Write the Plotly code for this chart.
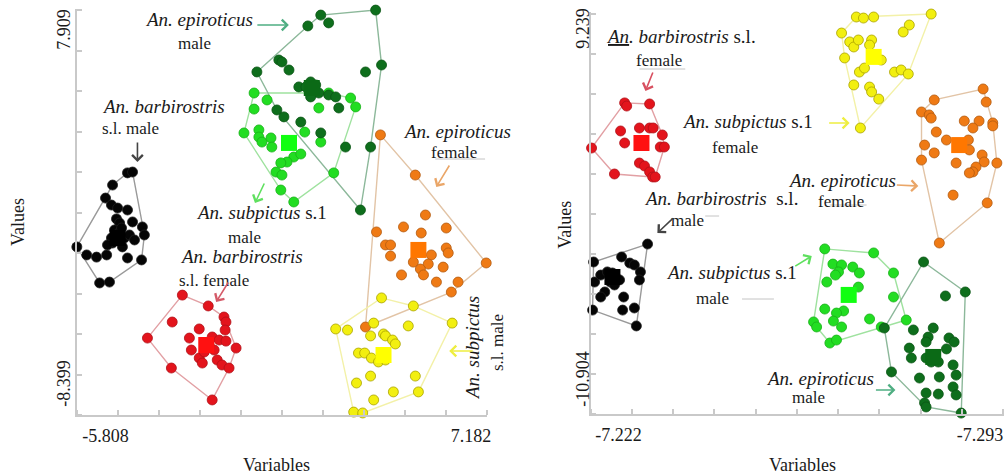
import plotly.graph_objects as go

# ---------------- Left panel data ----------------
L_tick_x = [-5.808, 7.182]
L_tick_y = [7.909, -8.399]

L_black_x = [-5.03,-4.85,-5.56,-5.81,-5.60,-5.38,-5.03,-5.42,-5.31,-4.85,-4.50,-6.83,-6.48,-6.13,-5.77,-5.56,-5.42,-5.21,-5.03,-4.53,-4.43,-6.02,-5.67,-5.49,-5.31,-5.60,-5.38,-5.14,-5.74,-5.24,-4.96,-4.78]
L_black_y = [1.28,1.32,0.72,0.12,-0.20,-0.34,-0.43,-0.84,-1.03,-0.98,-1.21,-2.13,-2.50,-2.60,-2.50,-1.95,-1.58,-2.13,-2.64,-2.73,-1.58,-3.79,-3.75,-1.35,-1.44,-1.72,-1.81,-1.72,-2.04,-1.26,-1.58,-1.81]
L_red_x = [-3.08,-2.16,-1.60,-1.53,-3.44,-1.56,-2.48,-4.32,-2.83,-2.02,-1.77,-1.53,-2.76,-1.17,-2.48,-2.37,-1.84,-1.67,-1.42,-3.47,-2.02,-2.13,-1.95,-2.30]
L_red_y = [-4.35,-4.85,-5.36,-5.59,-5.59,-5.96,-5.91,-6.33,-6.33,-6.28,-6.42,-6.47,-6.88,-6.79,-7.25,-7.48,-7.34,-7.57,-7.71,-7.71,-9.18,-6.65,-6.88,-6.97]
L_lgreen_x = [-0.53,-0.07,-0.53,-0.89,-0.36,-0.36,-0.25,0.07,0.10,0.88,1.13,0.64,0.42,0.25,0.46,0.42,0.88,2.30,1.77,2.12,2.90,3.08,1.27,1.84]
L_lgreen_y = [4.96,4.64,4.22,3.12,3.26,2.93,2.70,2.89,2.47,2.01,2.15,1.78,1.74,1.32,1.18,0.49,-0.06,1.28,4.27,4.96,4.73,4.32,3.16,2.70]
L_dgreen_x = [3.79,1.84,2.12,1.38,0.35,0.46,0.71,-0.43,3.43,4.00,1.06,1.31,1.48,1.66,1.52,1.77,1.48,2.12,2.37,0.28,0.53,1.13,1.84,2.48,2.72,3.61,3.25]
L_dgreen_y = [8.78,8.55,8.19,8.05,6.48,6.39,6.02,5.93,5.93,6.25,5.24,5.24,5.47,5.33,5.10,4.96,4.78,4.87,4.78,4.18,3.86,3.62,3.12,4.27,2.47,2.47,-0.43]
L_orange_x = [3.96,5.20,5.56,4.78,5.41,6.30,3.82,4.14,4.32,4.32,6.30,6.37,5.77,5.66,5.13,4.71,5.38,5.49,5.95,6.19,6.72,6.48,7.72,3.43]
L_orange_y = [3.03,1.18,-0.66,-1.21,-1.49,-1.26,-1.44,-2.04,-2.04,-2.55,-2.18,-2.41,-2.50,-2.92,-2.83,-3.42,-3.15,-3.42,-3.75,-3.06,-3.75,-4.21,-2.87,-5.82]
L_yellow_x = [4.00,5.13,6.51,2.37,2.79,3.72,3.61,4.07,4.14,4.39,4.49,4.95,3.18,3.40,3.64,3.89,4.14,3.61,3.11,5.20,4.42,3.72,5.31,3.01,3.33]
L_yellow_y = [-4.48,-4.85,-5.64,-5.91,-5.96,-5.64,-6.23,-6.14,-6.23,-6.42,-6.60,-5.77,-7.02,-7.02,-7.25,-7.43,-7.34,-8.08,-8.40,-8.08,-8.81,-9.18,-8.81,-9.74,-9.78]
# centroids: black, red, light green, dark green, orange, yellow
L_cent_x = [-5.38, -2.23, 0.71, 1.52, 5.31, 4.07]
L_cent_y = [-1.72, -6.65, 2.66, 5.19, -2.27, -7.11]

# ---------------- Right panel data ----------------
R_tick_x = [-7.222, -7.293]
R_tick_y = [9.239, -10.904]

R_red_x = [-7.2232,-7.2236,-7.2281,-7.2224,-7.2232,-7.2261,-7.2281,-7.2288,-7.2306,-7.2302,-7.2310,-7.2167,-7.2261,-7.2271,-7.2212,-7.2281,-7.2287,-7.2292]
R_red_y = [4.94,4.76,4.88,3.33,2.64,3.50,3.50,3.50,3.10,2.41,2.41,2.35,1.49,1.32,0.86,0.98,0.69,0.69]
R_black_x = [-7.2277,-7.2171,-7.2226,-7.2242,-7.2251,-7.2263,-7.2261,-7.2173,-7.2185,-7.2198,-7.2208,-7.2214,-7.2222,-7.2204,-7.2212,-7.2193,-7.2185,-7.2230,-7.2169,-7.2228,-7.2251,-7.2255]
R_black_y = [-3.16,-4.19,-3.90,-4.25,-4.36,-4.76,-5.22,-5.34,-4.94,-4.76,-4.82,-5.05,-5.22,-5.34,-5.51,-5.91,-6.20,-6.20,-6.95,-6.95,-6.83,-7.86]
R_yellow_x = [-7.2687,-7.2701,-7.2721,-7.2834,-7.2658,-7.2791,-7.2779,-7.2674,-7.2682,-7.2691,-7.2717,-7.2713,-7.2664,-7.2736,-7.2693,-7.2703,-7.2762,-7.2775,-7.2789,-7.2682,-7.2713,-7.2717,-7.2731,-7.2695]
R_yellow_y = [9.87,9.81,9.87,10.04,8.95,9.41,9.01,8.44,8.15,8.55,8.55,8.26,7.52,7.40,6.71,6.94,6.71,6.83,6.60,5.97,5.85,5.57,5.16,3.50]
R_orange_x = [-7.2936,-7.2840,-7.2942,-7.2815,-7.2830,-7.2834,-7.2899,-7.2928,-7.2955,-7.2955,-7.2916,-7.2844,-7.2864,-7.2907,-7.2909,-7.2821,-7.2840,-7.2815,-7.2883,-7.2934,-7.2938,-7.2963,-7.2922,-7.2916,-7.2909,-7.2877,-7.2944,-7.2850]
R_orange_y = [5.74,5.11,4.99,4.42,4.25,4.07,3.90,3.90,3.79,3.62,3.50,3.27,2.81,2.81,2.24,2.52,2.07,1.66,1.49,1.95,1.55,1.49,1.26,0.98,0.92,-0.35,-0.80,-3.10]
R_lgreen_x = [-7.2625,-7.2721,-7.2641,-7.2658,-7.2680,-7.2652,-7.2646,-7.2693,-7.2629,-7.2691,-7.2760,-7.2760,-7.2625,-7.2662,-7.2648,-7.2603,-7.2609,-7.2642,-7.2658,-7.2713,-7.2736,-7.2785,-7.2635,-7.2648]
R_lgreen_y = [-3.44,-3.67,-4.31,-4.36,-4.48,-4.76,-4.94,-4.82,-5.34,-5.63,-4.82,-6.20,-6.89,-7.00,-7.12,-7.63,-7.92,-7.58,-7.92,-7.46,-7.92,-7.52,-8.84,-8.67]
R_dgreen_x = [-7.2819,-7.2901,-7.2862,-7.2742,-7.2799,-7.2838,-7.2828,-7.2824,-7.2791,-7.2795,-7.2869,-7.2879,-7.2864,-7.2824,-7.2834,-7.2848,-7.2877,-7.2883,-7.2850,-7.2756,-7.2811,-7.2824,-7.2848,-7.2877,-7.2883,-7.2821,-7.2824,-7.2893]
R_dgreen_y = [-4.19,-5.91,-6.14,-7.98,-8.09,-7.98,-8.50,-8.78,-9.13,-9.70,-8.55,-8.78,-9.18,-9.70,-9.93,-9.93,-10.10,-10.68,-10.79,-10.50,-10.85,-11.71,-11.77,-11.36,-11.82,-12.28,-12.51,-12.86]
# centroids: black, red, light green, dark green, orange, yellow
R_cent_x = [-7.2208, -7.2265, -7.2672, -7.2838, -7.2889, -7.2721]
R_cent_y = [-5.05, 2.64, -6.08, -9.64, 2.52, 7.58]

# ---------------- styles ----------------
FONT = "Liberation Serif, Times New Roman, serif"
TXT = "#1a1a1a"
STY = {
    "black":  dict(m="#050505", e="#202020", h="#9a9a9a", c="#000000"),
    "red":    dict(m="#e3141c", e="#b01018", h="#e2a0a4", c="#ff1111"),
    "lgreen": dict(m="#22dd22", e="#18b018", h="#9fe29f", c="#11ff11"),
    "dgreen": dict(m="#0e6e1c", e="#0a5514", h="#8cb89a", c="#0b6a16"),
    "orange": dict(m="#ef7a14", e="#b35a10", h="#e2c4a6", c="#ff7700"),
    "yellow": dict(m="#f2ef10", e="#a9a200", h="#f3f1a8", c="#ffff00"),
}
order = ["black", "red", "lgreen", "dgreen", "orange", "yellow"]


def hull(xs, ys):
    pts = sorted(set(zip(xs, ys)))
    if len(pts) < 3:
        return [p[0] for p in pts], [p[1] for p in pts]

    def cross(o, a, b):
        return (a[0] - o[0]) * (b[1] - o[1]) - (a[1] - o[1]) * (b[0] - o[0])
    lower, upper = [], []
    for p in pts:
        while len(lower) >= 2 and cross(lower[-2], lower[-1], p) <= 0:
            lower.pop()
        lower.append(p)
    for p in reversed(pts):
        while len(upper) >= 2 and cross(upper[-2], upper[-1], p) <= 0:
            upper.pop()
        upper.append(p)
    h = lower[:-1] + upper[:-1]
    h.append(h[0])
    return [p[0] for p in h], [p[1] for p in h]


panels = [
    ("x", "y", {"black": (L_black_x, L_black_y), "red": (L_red_x, L_red_y),
                "lgreen": (L_lgreen_x, L_lgreen_y), "dgreen": (L_dgreen_x, L_dgreen_y),
                "orange": (L_orange_x, L_orange_y), "yellow": (L_yellow_x, L_yellow_y)},
     L_cent_x, L_cent_y),
    ("x2", "y2", {"black": (R_black_x, R_black_y), "red": (R_red_x, R_red_y),
                  "lgreen": (R_lgreen_x, R_lgreen_y), "dgreen": (R_dgreen_x, R_dgreen_y),
                  "orange": (R_orange_x, R_orange_y), "yellow": (R_yellow_x, R_yellow_y)},
     R_cent_x, R_cent_y),
]

fig = go.Figure()
for xa, ya, groups, cx, cy in panels:
    for k in order:
        hx, hy = hull(*groups[k])
        fig.add_trace(go.Scatter(x=hx, y=hy, mode="lines", xaxis=xa, yaxis=ya,
                                 line=dict(color=STY[k]["h"], width=1.4),
                                 hoverinfo="skip", showlegend=False))
    for i, k in enumerate(order):
        gx, gy = groups[k]
        fig.add_trace(go.Scatter(x=gx, y=gy, mode="markers", xaxis=xa, yaxis=ya,
                                 marker=dict(size=10, color=STY[k]["m"],
                                             line=dict(color=STY[k]["e"], width=0.8)),
                                 cliponaxis=False, showlegend=False))
        fig.add_trace(go.Scatter(x=[cx[i]], y=[cy[i]], mode="markers", xaxis=xa, yaxis=ya,
                                 marker=dict(size=16, symbol="square", color=STY[k]["c"]),
                                 cliponaxis=False, showlegend=False))


def P(px, py):
    return px / 1008.0, 1 - py / 476.0


annotations = []


def text(s, px, py, anchor="center", size=17, angle=0):
    x, y = P(px, py)
    annotations.append(dict(text=s, x=x, y=y, xref="paper", yref="paper",
                            xanchor=anchor, yanchor="middle", showarrow=False,
                            textangle=angle, font=dict(family=FONT, size=size, color=TXT)))


def arrow(tx, ty, hx, hy, color):
    x, y = P(hx, hy)
    annotations.append(dict(text="", x=x, y=y, xref="paper", yref="paper",
                            ax=tx - hx, ay=ty - hy, axref="pixel", ayref="pixel",
                            showarrow=True, arrowhead=4, arrowsize=1.3, arrowwidth=1.6,
                            arrowcolor=color, standoff=0, startstandoff=0))


# y-axis tick labels (rotated), placed on the axis scale
for v in L_tick_y:
    annotations.append(dict(text=f"{v:.3f}", x=64 / 1008.0, y=v, xref="paper", yref="y",
                            xanchor="center", yanchor="middle", showarrow=False, textangle=-90,
                            font=dict(family=FONT, size=18, color=TXT)))
for v in R_tick_y:
    annotations.append(dict(text=f"{v:.3f}", x=585 / 1008.0, y=v, xref="paper", yref="y2",
                            xanchor="center", yanchor="middle", showarrow=False, textangle=-90,
                            font=dict(family=FONT, size=18, color=TXT)))

IS = 19  # italic species label size
# left panel labels
text("<i>An. epiroticus</i>", 200, 20, size=IS)
text("male", 195, 43)
arrow(257, 25, 290, 25, "#4fae82")
text("<i>An. barbirostris</i>", 164, 106, size=IS)
text("s.l. male", 100, 129, anchor="left")
arrow(138, 141, 138, 162, "#444444")
text("<i>An. epiroticus</i>", 459, 131, size=IS)
text("female", 456, 153)
arrow(452, 164, 438, 187, "#eaa668")
text("<i>An. subpictus</i> s.1", 263, 212, size=IS)
text("male", 245, 237)
arrow(266, 182, 256, 203, "#5fe05f")
text("<i>An. barbirostris</i>", 242, 256, size=IS)
text("s.l. female", 178, 280, anchor="left")
arrow(230, 281, 217, 302, "#d45a68")
text("<i>An. subpictus</i>", 474, 348, size=IS, angle=-90)
text("s.l. male", 499, 343, angle=-90)
arrow(476, 351, 451, 351, "#eeee40")

# right panel labels
text("<i><span style='text-decoration:underline'>An</span>. barbirostris</i> s.l.", 684, 37, size=IS)
text("female", 662, 60)
arrow(656, 71, 648, 91, "#d85060")
text("<i>An. subpictus</i> s.1", 750, 122, size=IS)
text("female", 738, 147)
arrow(831, 123, 853, 123, "#eeee40")
text("<i>An. epiroticus</i>", 845, 180, size=IS)
text("female", 844, 201)
arrow(899, 185, 922, 186, "#eaa668")
text("<i>An. barbirostris</i>  s.l.", 724, 198, size=IS)
text("male", 690, 220)
arrow(677, 217, 660, 233, "#444444")
text("<i>An. subpictus</i> s.1", 734, 272, size=IS)
text("male", 715, 298)
arrow(797, 267, 815, 256, "#5fe05f")
text("<i>An. epiroticus</i>", 823, 378, size=IS)
text("male", 812, 397)
arrow(878, 390, 899, 390, "#4fae82")

# axis titles
text("Variables", 278, 465, size=18)
text("Variables", 806, 465, size=18)
text("Values", 18, 222, size=18, angle=-90)
text("Values", 567, 225, size=18, angle=-90)

shapes = []
for (x0, y0, x1, y1) in [(437, 159, 487, 159), (708, 216, 722, 216), (833, 205, 870, 205),
                         (745, 299, 777, 299), (642, 69, 688, 69)]:
    a, b = P(x0, y0)
    c, d = P(x1, y1)
    shapes.append(dict(type="line", xref="paper", yref="paper", x0=a, y0=b, x1=c, y1=d,
                       line=dict(color="#c4c4c4", width=1)))

AX = "#c9c9c9"


def axis(domain, rng, tickvals, tick0, dtick, anchor, labels=True, standoff=3):
    return dict(domain=domain, range=rng, anchor=anchor, showgrid=False, zeroline=False,
                showline=True, linecolor=AX, linewidth=2,
                tickmode="array", tickvals=tickvals, ticktext=[f"{v:.3f}" for v in tickvals],
                ticks="", showticklabels=labels, ticklabelstandoff=standoff,
                tickfont=dict(family=FONT, size=18, color=TXT),
                minor=dict(ticks="inside", ticklen=5, tickwidth=1.5, tickcolor=AX,
                           tickmode="linear", tick0=tick0, dtick=dtick, showgrid=False))


fig.update_layout(
    width=1008, height=476, margin=dict(l=0, r=0, t=0, b=0),
    paper_bgcolor="white", plot_bgcolor="white", showlegend=False,
    xaxis=axis([0.07639, 0.48512], [-6.835, 7.75], L_tick_x, -6.835, 1.4585, "y"),
    yaxis=axis([0.12815, 0.98109], [-9.874, 8.83], L_tick_y, -9.874, 1.8658, "x", labels=False),
    xaxis2=axis([0.58829, 1.0], [-7.21652, -7.2977], R_tick_x, -7.21652, 0.008098, "y2"),
    yaxis2=axis([0.13025, 0.97479], [-12.914, 10.157], R_tick_y, -12.914, 2.2956, "x2", labels=False),
    annotations=annotations, shapes=shapes,
)

fig.write_html("out.html", config={"displayModeBar": False},
               post_script="document.body.style.margin='0';document.body.style.overflow='hidden';")
